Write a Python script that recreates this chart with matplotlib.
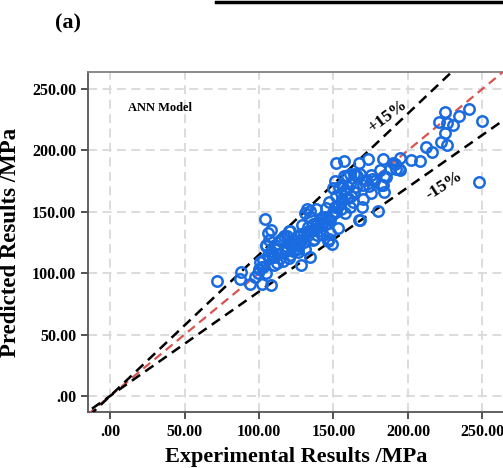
import matplotlib
matplotlib.use("Agg")
from matplotlib import pyplot as plt
from matplotlib.lines import Line2D
import numpy as np

# measured vs predicted strength (MPa)
exp_vals = [72, 88, 87, 94, 102, 108, 99, 101, 103, 102, 103, 107, 110, 114, 104, 106, 105,
            107, 105, 112, 115, 111, 108, 114, 117, 120, 119, 121, 121, 126, 128, 134, 129,
            126, 133, 136, 147, 143, 146, 149, 132, 138, 134, 131, 134, 142, 141, 139, 148,
            153, 149, 145, 155, 158, 161, 159, 152, 155, 151, 160, 169, 170, 164, 175, 167,
            168, 180, 156, 165, 175, 182, 184, 195, 192, 151, 157, 161, 166, 152, 167, 173,
            183, 191, 190, 202, 208, 212, 216, 222, 226, 225, 226, 221, 225, 230, 234, 241,
            250, 248, 184, 183, 176, 174, 164, 159, 161, 168, 157, 195, 188, 185, 194, 181,
            118, 122, 125, 128, 130, 132, 135, 137, 138, 140, 142, 143, 144, 146, 136, 128,
            124, 116, 113, 110, 120, 123, 130, 127, 133, 139, 141, 150, 153, 156, 148, 145,
            152, 155, 158, 162, 165, 170, 172, 177, 163, 147, 150, 154, 160, 97, 100, 105,
            106, 108, 112, 118, 126, 131, 137, 109, 116, 122]
pred_vals = [94, 101, 95, 91, 91, 90, 100, 109, 105, 105, 111, 112, 107, 112, 144, 133, 123,
             127, 122, 120, 126, 123, 135, 127, 130, 134, 130, 134, 115, 120, 107, 113, 139,
             130, 134, 127, 128, 131, 126, 124, 152, 152, 146, 149, 151, 145, 144, 141, 133,
             137, 147, 153, 152, 149, 154, 161, 150, 158, 154, 161, 154, 160, 166, 165, 143,
             143, 151, 172, 180, 180, 172, 179, 184, 185, 175, 179, 181, 179, 190, 190, 193,
             193, 189, 190, 192, 191, 203, 199, 207, 204, 214, 222, 223, 231, 221, 228, 234,
             224, 174, 166, 172, 177, 171, 181, 179, 173, 181, 191, 194, 185, 178, 185, 184,
             118, 121, 124, 127, 125, 130, 134, 136, 139, 138, 140, 142, 146, 144, 140, 132,
             126, 117, 116, 113, 112, 118, 133, 123, 138, 131, 135, 150, 155, 160, 143, 140,
             163, 165, 168, 163, 170, 172, 176, 175, 158, 158, 169, 170, 170, 97, 103, 100,
             115, 118, 108, 122, 117, 120, 128, 116, 110, 127]

ticks = [0, 50, 100, 150, 200, 250]
tick_labels = ['.00', '50.00', '100.00', '150.00', '200.00', '250.00']

plt.rcParams['font.family'] = ['Liberation Serif', 'DejaVu Serif']
plt.rcParams['font.weight'] = 'bold'

fig = plt.figure(figsize=(5.03, 4.68), dpi=100)
ax = fig.add_axes([0.175, 0.1197, 0.827, 0.7265])

ax.set_xlim(-14.8, 264.5)
ax.set_ylim(-13.0, 263.8)

# reference lines: 1:1 and +/-15 %
xs = np.array([-30, 300])
ax.plot(xs, xs, color='#d9534f', lw=1.6, ls=(0, (4, 2.5)), zorder=3)
ax.plot(xs, 1.15 * xs, color='black', lw=1.8, ls=(0, (4, 2.5)), zorder=3)
ax.plot(xs, 0.85 * xs, color='black', lw=1.8, ls=(0, (4, 2.5)), zorder=3)

ax.plot(exp_vals, pred_vals, 'o', mfc='none', mec='#1a6be0', ms=7.5, mew=1.8, zorder=4)

ax.set_xticks(ticks)
ax.set_xticklabels(tick_labels)
ax.set_yticks(ticks)
ax.set_yticklabels(tick_labels)
ax.tick_params(direction='out', length=5, width=1.2, color='#333333', labelsize=11.5,
               top=False, right=False)

ax.grid(True, color='#d9d9d9', lw=1.3, ls=(0, (5, 3)))
ax.set_axisbelow(True)
for side in ['left', 'bottom', 'top', 'right']:
    ax.spines[side].set_color('#808080')
    ax.spines[side].set_linewidth(1.3)
ax.spines['left'].set_color('#555555')
ax.spines['bottom'].set_color('#555555')

ax.text(12, 234.5, 'ANN Model', fontsize=9, fontweight='bold', va='center', ha='left')
ax.text(186, 228, '+15%', fontsize=12.5, rotation=37, ha='center', va='center')
ax.text(224, 171, '-15%', fontsize=12.5, rotation=33, ha='center', va='center')

ax.set_xlabel('Experimental Results /MPa', fontsize=16, fontweight='bold', labelpad=5)
ax.set_ylabel('Predicted Results /MPa', fontsize=16.5, fontweight='bold')
ax.yaxis.set_label_coords(-0.16, 0.5)

fig.text(0.11, 0.95, '(a)', fontsize=16, fontweight='bold', ha='left', va='center')
fig.add_artist(Line2D([0.43, 1.0], [0.996, 0.996], color='black', lw=2.5,
                      transform=fig.transFigure))

fig.savefig('out.png', dpi=100)
